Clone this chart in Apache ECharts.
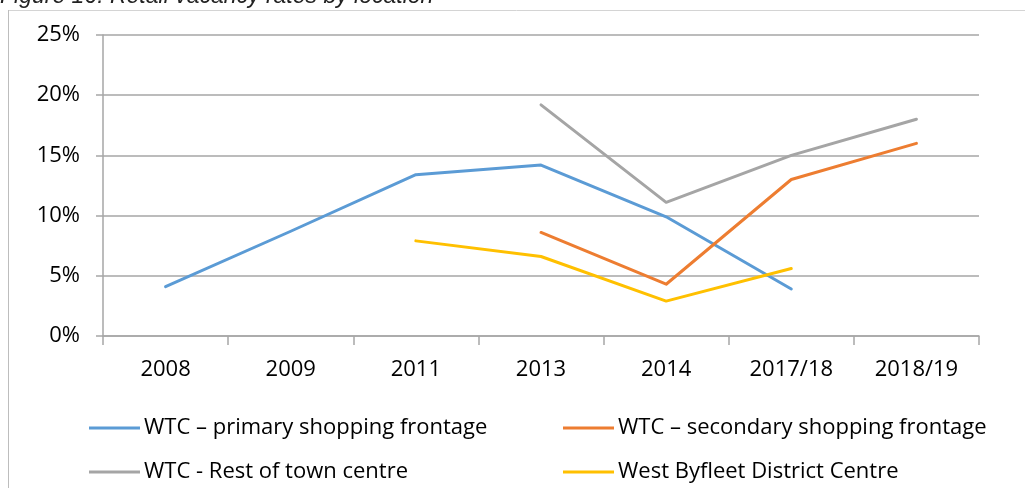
<!DOCTYPE html>
<html>
<head>
<meta charset="utf-8">
<script src="https://cdn.jsdelivr.net/npm/echarts@6/dist/echarts.min.js"></script>
<style>
  html, body { margin: 0; padding: 0; background: #fff; }
  #chart { width: 1025px; height: 488px; }
</style>
</head>
<body>
<div id="chart"></div>
<script>
// Survey periods along the x axis
const years = ['2008', '2009', '2011', '2013', '2014', '2017/18', '2018/19'];

// Vacancy rates (%) per location; null where no survey was made
const primaryFrontage   = [4.1, 8.7, 13.4, 14.2, 9.9, 3.9, null];
const secondaryFrontage = [null, null, null, 8.6, 4.3, 13.0, 16.0];
const restOfTownCentre  = [null, null, null, 19.2, 11.1, 15.0, 18.0];
const westByfleet       = [null, null, 7.9, 6.6, 2.9, 5.6, null];

// Y axis ticks (%)
const yTicks = [0, 5, 10, 15, 20, 25];

const seriesNames = [
  'WTC \u2013 primary shopping frontage',
  'WTC \u2013 secondary shopping frontage',
  'WTC - Rest of town centre',
  'West Byfleet District Centre'
];
const seriesColors = ['#5b9bd5', '#ed7d31', '#a5a5a5', '#ffc000'];
const seriesData = [primaryFrontage, secondaryFrontage, restOfTownCentre, westByfleet];

const labelFont = '"Open Sans", Lato, sans-serif';
const gridGray = '#a6a6a6';

function legendAt(name, left, top) {
  return {
    data: [name],
    left: left,
    top: top,
    icon: 'rect',
    itemWidth: 51,
    itemHeight: 3,
    itemGap: 0,
    padding: 0,
    selectedMode: false,
    textStyle: { fontFamily: labelFont, fontSize: 22, color: '#000', padding: [0, 0, 0, -1] }
  };
}

const chart = echarts.init(document.getElementById('chart'), null, { renderer: 'canvas' });

chart.setOption({
  animation: false,
  backgroundColor: '#fff',
  color: seriesColors,
  graphic: [
    {
      type: 'text',
      left: 0,
      top: -15,
      style: {
        text: 'Figure 16: Retail vacancy rates by location',
        font: 'italic 23px "Liberation Sans", Arial, sans-serif',
        fill: '#222'
      }
    },
    { type: 'line', shape: { x1: 8, y1: 10.5, x2: 1025, y2: 10.5 }, style: { stroke: '#d4d4d4', lineWidth: 1 } },
    { type: 'line', shape: { x1: 8.5, y1: 10, x2: 8.5, y2: 488 }, style: { stroke: '#bdbdbd', lineWidth: 1 } }
  ],
  grid: { left: 103, right: 46, top: 35, bottom: 152, containLabel: false },
  legend: [
    legendAt(seriesNames[0], 89, 417),
    legendAt(seriesNames[1], 563, 417),
    legendAt(seriesNames[2], 89, 461),
    legendAt(seriesNames[3], 563, 461)
  ],
  xAxis: {
    type: 'category',
    data: years,
    boundaryGap: true,
    axisLine: { show: true, lineStyle: { color: gridGray, width: 1.5 } },
    axisTick: { show: true, interval: 0, length: 9, lineStyle: { color: gridGray, width: 1.5 } },
    axisLabel: { interval: 0, margin: 23, fontFamily: labelFont, fontSize: 22, color: '#000' }
  },
  yAxis: {
    type: 'value',
    min: yTicks[0],
    max: yTicks[yTicks.length - 1],
    interval: yTicks[1] - yTicks[0],
    axisLine: { show: true, lineStyle: { color: gridGray, width: 1.5 } },
    axisTick: { show: true, length: 7, lineStyle: { color: gridGray, width: 1.5 } },
    splitLine: { show: true, lineStyle: { color: gridGray, width: 1.5 } },
    axisLabel: { formatter: '{value}%', margin: 23, fontFamily: labelFont, fontSize: 22, color: '#000' }
  },
  series: seriesData.map((d, i) => ({
    name: seriesNames[i],
    type: 'line',
    data: d,
    symbol: 'none',
    connectNulls: false,
    lineStyle: { width: 3, color: seriesColors[i], cap: 'round', join: 'round' },
    itemStyle: { color: seriesColors[i] }
  }))
});
</script>
</body>
</html>
